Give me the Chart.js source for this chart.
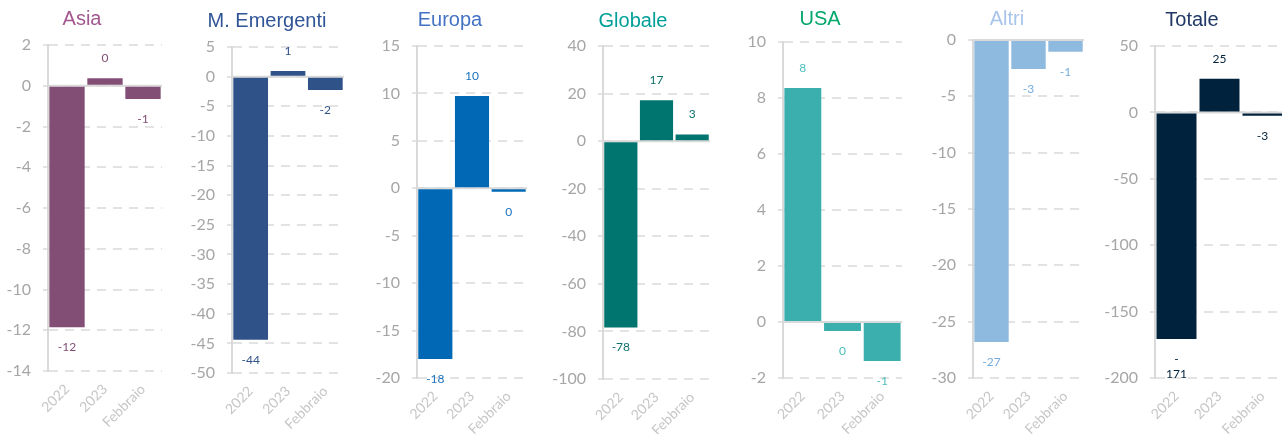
<!DOCTYPE html>
<html lang="it">
<head>
<meta charset="utf-8">
<script src="https://cdn.jsdelivr.net/npm/chart.js@4.4.1/dist/chart.umd.min.js"></script>
<style>
  html, body { margin: 0; padding: 0; background: #ffffff; }
  body { width: 1282px; height: 434px; position: relative; overflow: hidden; }
  .panel { position: absolute; top: 0; }
  .title {
    position: absolute;
    font-family: 'Liberation Sans', Arial, sans-serif;
    font-size: 20px;
    line-height: 20px;
    white-space: nowrap;
    transform: translate(-50%, -50%);
  }
</style>
</head>
<body>
<script>
// Dati
const categories = ['2022', '2023', 'Febbraio'];
const panelTitles = ['Asia', 'M. Emergenti', 'Europa', 'Globale', 'USA', 'Altri', 'Totale'];

const asiaValues = [-11.85, 0.37, -0.65];
const emergentiValues = [-44.4, 0.95, -2.26];
const europaValues = [-18.0, 9.73, -0.36];
const globaleValues = [-78.3, 17.2, 2.8];
const usaValues = [8.36, -0.32, -1.39];
const altriValues = [-26.8, -2.57, -1.04];
const totaleValues = [-170.6, 25.3, -2.6];

// Asse y: min, max, passo
const yMins = [-14, -50, -20, -100, -2, -30, -200];
const yMaxs = [2, 5, 15, 40, 10, 0, 50];
const ySteps = [2, 5, 5, 20, 2, 5, 50];

const allValues = [asiaValues, emergentiValues, europaValues, globaleValues, usaValues, altriValues, totaleValues];

// Colori per pannello
const barColors = ['#834e75', '#2f5289', '#0068b4', '#00756f', '#3aafad', '#8fbadf', '#00223c'];
const labelColors = ['#834e75', '#2f5289', '#1a73c0', '#0e6f6b', '#4dbdba', '#76aee0', '#00223c'];
const titleColors = ['#a3588f', '#2f5597', '#4472c4', '#00a099', '#00a86b', '#a9c4eb', '#1f3864'];

// Posizioni (asse y, bordo destro, alto, basso, centro titolo)
const layoutBoxes = [
  { axisX: 48, rightX: 162, top: 45, bottom: 371, titleX: 82, titleY: 18 },
  { axisX: 232, rightX: 344, top: 47, bottom: 373, titleX: 267, titleY: 20 },
  { axisX: 417, rightX: 527, top: 46, bottom: 378, titleX: 450, titleY: 19 },
  { axisX: 603, rightX: 710, top: 46, bottom: 379, titleX: 633, titleY: 20 },
  { axisX: 783, rightX: 902, top: 42, bottom: 378, titleX: 820, titleY: 18 },
  { axisX: 973, rightX: 1084, top: 40, bottom: 378, titleX: 1007, titleY: 18 },
  { axisX: 1155, rightX: 1284, top: 46, bottom: 378, titleX: 1192, titleY: 19 }
];

const Y_AXIS_WIDTH = 60;
const PAGE_HEIGHT = 434;

// Linea dello zero
const zeroLinePlugin = {
  id: 'zeroLine',
  beforeDatasetsDraw(chart) {
    const y = chart.scales.y.getPixelForValue(0);
    const area = chart.chartArea;
    const ctx = chart.ctx;
    ctx.save();
    ctx.strokeStyle = '#d9d9d9';
    ctx.lineWidth = 2;
    ctx.beginPath();
    ctx.moveTo(area.left, y);
    ctx.lineTo(area.right, y);
    ctx.stroke();
    ctx.restore();
  }
};

// Etichette dei valori
const barLabelsPlugin = {
  id: 'barLabels',
  afterDatasetsDraw(chart, args, opts) {
    const ctx = chart.ctx;
    const meta = chart.getDatasetMeta(0);
    const values = chart.data.datasets[0].data;
    ctx.save();
    ctx.font = '12px Lato';
    ctx.fillStyle = opts.color;
    ctx.textAlign = 'center';
    ctx.textBaseline = 'middle';
    meta.data.forEach((bar, i) => {
      const v = values[i];
      const text = String(Math.round(v));
      const lines = text.length > 3 ? [text[0], text.slice(1)] : [text];
      const dir = v >= 0 ? -1 : 1;
      lines.forEach((line, k) => {
        ctx.fillText(line, bar.x, bar.y + dir * 20 + k * 15);
      });
    });
    ctx.restore();
  }
};

function buildPanel(i) {
  const box = layoutBoxes[i];
  const left = box.axisX - Y_AXIS_WIDTH;
  const width = box.rightX - left;

  const canvas = document.createElement('canvas');
  canvas.className = 'panel';
  canvas.width = width;
  canvas.height = PAGE_HEIGHT;
  canvas.style.left = left + 'px';
  canvas.style.width = width + 'px';
  canvas.style.height = PAGE_HEIGHT + 'px';
  document.body.appendChild(canvas);

  const title = document.createElement('div');
  title.className = 'title';
  title.textContent = panelTitles[i];
  title.style.color = titleColors[i];
  title.style.left = box.titleX + 'px';
  title.style.top = box.titleY + 'px';
  document.body.appendChild(title);

  new Chart(canvas.getContext('2d'), {
    type: 'bar',
    data: {
      labels: categories,
      datasets: [{
        data: allValues[i],
        backgroundColor: barColors[i],
        barPercentage: 0.93,
        categoryPercentage: 1
      }]
    },
    options: {
      responsive: false,
      animation: false,
      layout: { padding: { top: box.top, left: 0, right: 0, bottom: 0 } },
      plugins: {
        legend: { display: false },
        tooltip: { enabled: false },
        barLabels: { color: labelColors[i] }
      },
      scales: {
        x: {
          grid: { display: false },
          border: { display: false },
          ticks: {
            color: '#c6c6c6',
            font: { family: 'Lato', size: 14 },
            minRotation: 45,
            maxRotation: 45,
            autoSkip: false,
            padding: 2
          },
          afterFit(scale) {
            scale.height = PAGE_HEIGHT - box.bottom;
            scale.paddingLeft = 0;
            scale.paddingRight = 0;
          }
        },
        y: {
          min: yMins[i],
          max: yMaxs[i],
          ticks: {
            stepSize: ySteps[i],
            color: '#a6a6a6',
            font: { family: 'Lato', size: 16 },
            padding: 12
          },
          grid: {
            color: '#e3e3e3',
            lineWidth: 2,
            tickLength: 5,
            tickColor: '#e3e3e3'
          },
          border: { display: true, color: '#d9d9d9', width: 2, dash: [9, 7] },
          afterFit(scale) {
            scale.width = Y_AXIS_WIDTH;
          }
        }
      }
    },
    plugins: [zeroLinePlugin, barLabelsPlugin]
  });
}

for (let i = 0; i < panelTitles.length; i++) {
  buildPanel(i);
}
</script>
</body>
</html>
